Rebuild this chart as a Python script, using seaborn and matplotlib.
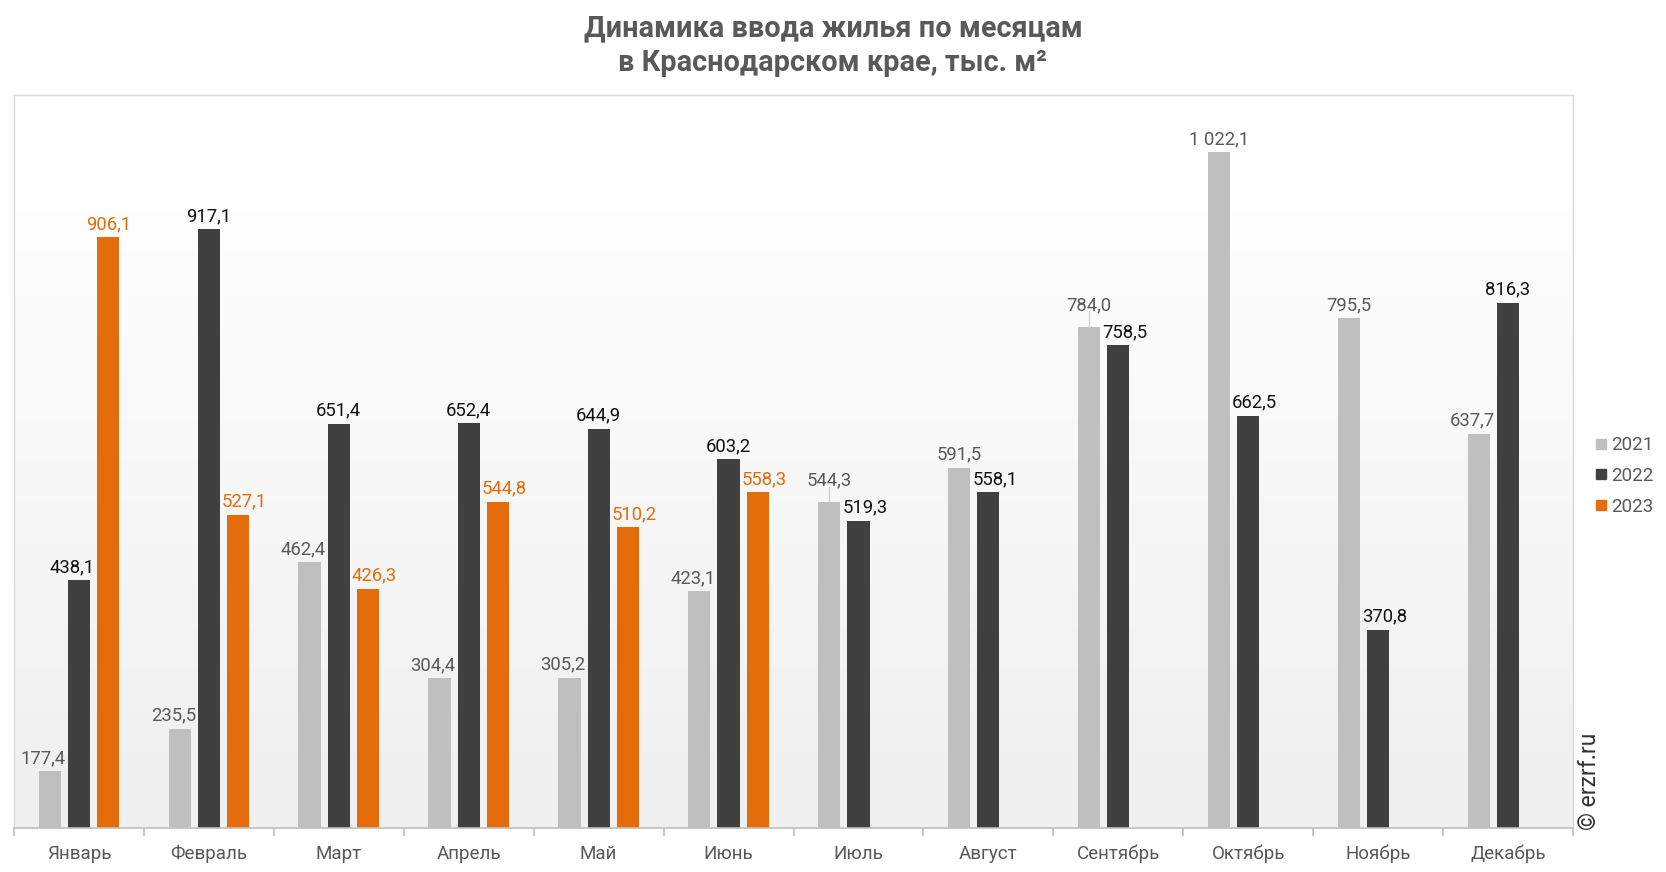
import numpy as np
import pandas as pd
import matplotlib
matplotlib.use("Agg")
import matplotlib.pyplot as plt
import seaborn as sns
from matplotlib.lines import Line2D

months = ["Январь", "Февраль", "Март", "Апрель", "Май", "Июнь",
          "Июль", "Август", "Сентябрь", "Октябрь", "Ноябрь", "Декабрь"]
years = ["2021", "2022", "2023"]
v2021 = [177.4, 235.5, 462.4, 304.4, 305.2, 423.1, 544.3, 591.5, 784.0, 1022.1, 795.5, 637.7]
v2022 = [438.1, 917.1, 651.4, 652.4, 644.9, 603.2, 519.3, 558.1, 758.5, 662.5, 370.8, 816.3]
v2023 = [906.1, 527.1, 426.3, 544.8, 510.2, 558.3]

title = "Динамика ввода жилья по месяцам\nв Краснодарском крае, тыс. м²"
watermark = "© erzrf.ru"

bar_colors = {"2021": "#bfbfbf", "2022": "#404040", "2023": "#e46c0a"}
label_colors = {"2021": "#595959", "2022": "#111111", "2023": "#e46c0a"}

rows = []
for y, vals in zip(years, [v2021, v2022, v2023]):
    for m, v in zip(months, vals):
        rows.append({"month": m, "year": y, "value": v})
df = pd.DataFrame(rows)

sns.set_theme(style="white")
plt.rcParams["font.family"] = ["Roboto", "DejaVu Sans"]

DPI = 100
fig = plt.figure(figsize=(16.66, 8.72), dpi=DPI)
ax = fig.add_axes([14 / 1666, 1 - 828 / 872, (1573 - 14) / 1666, (828 - 95) / 872])

# gradient background
grad = np.linspace(0, 1, 256).reshape(-1, 1)
top = np.array([1.0, 1.0, 1.0])
bot = np.array([0.945, 0.945, 0.945])
t = np.clip((grad - 0.1) / 0.8, 0, 1)
img = (top * (1 - t) + bot * t).reshape(256, 1, 3)
ax.imshow(img, extent=[0, 1, 0, 1], transform=ax.transAxes, aspect="auto", zorder=0)

sns.barplot(data=df, x="month", y="value", hue="year", order=months, hue_order=years,
            palette=bar_colors, width=0.675, gap=0.24, ax=ax, legend=False,
            saturation=1, zorder=2, linewidth=0, err_kws={"linewidth": 0})

ax.set_xlim(-0.5, 11.5)
ax.set_ylim(100, 1100)


def fmt(v):
    s = f"{v:,.1f}"
    return s.replace(",", " ").replace(".", ",")


PAD = 3
bars_by_month = {}
labels = []
for cont, y in zip(ax.containers, years):
    for patch, v in zip(cont.patches, cont.datavalues):
        if np.isnan(v):
            continue
        cx = patch.get_x() + patch.get_width() / 2
        mi = int(round(cx))
        bars_by_month.setdefault(mi, []).append(patch)
        ann = ax.annotate(fmt(v), xy=(cx, v), xytext=(0, PAD), textcoords="offset points",
                          ha="center", va="bottom", fontsize=13.3, color=label_colors[y],
                          zorder=4)
        labels.append({"ann": ann, "patch": patch, "m": mi, "year": y, "v": v})

ax.set_xlabel("")
ax.set_ylabel("")
ax.set_yticks([])
ax.set_xticks(range(12))
ax.set_xticklabels(months, fontsize=13.5, color="#595959")
ax.set_xticks(np.arange(-0.5, 12, 1), minor=True)
ax.tick_params(axis="x", which="major", length=0, pad=12)
ax.tick_params(axis="x", which="minor", length=6, color="#bfbfbf", width=1.2, bottom=True)
for s in ["left", "top", "right"]:
    ax.spines[s].set_color("#d9d9d9")
    ax.spines[s].set_linewidth(1.0)
ax.spines["bottom"].set_color("#bfbfbf")
ax.spines["bottom"].set_linewidth(1.2)

# nudge labels away from taller neighbouring bars (Excel-like placement)
fig.canvas.draw()
renderer = fig.canvas.get_renderer()
margin = 2
for lab in labels:
    ann, patch, mi = lab["ann"], lab["patch"], lab["m"]
    bb = ann.get_window_extent(renderer)
    pb = patch.get_window_extent(renderer)
    shift = 0.0
    for other in bars_by_month[mi]:
        if other is patch:
            continue
        ob = other.get_window_extent(renderer)
        if ob.y1 <= bb.y0:
            continue
        if ob.x0 > pb.x0:
            over = bb.x1 - (ob.x0 - margin)
            if over > 0:
                shift -= over
        else:
            over = (ob.x1 + margin) - bb.x0
            if over > 0:
                shift += over
    lab["dx"] = shift * 72 / DPI
    if shift != 0:
        ann.xyann = (lab["dx"], PAD)

# raise a label (with a leader line) when it sits too close to its neighbour's label
fig.canvas.draw()
RAISE = 6
inv = ax.transData.inverted()
for mi in range(12):
    labs = [l for l in labels if l["m"] == mi]
    a = [l for l in labs if l["year"] == "2021"]
    b = [l for l in labs if l["year"] == "2022"]
    if not a or not b:
        continue
    a, b = a[0], b[0]
    if a["v"] <= b["v"]:
        continue
    ba = a["ann"].get_window_extent(renderer)
    bbx = b["ann"].get_window_extent(renderer)
    if (ba.y0 - bbx.y0) < bbx.height + 3:
        a["ann"].xyann = (a["dx"], PAD + RAISE)
        fig.canvas.draw()
        nb = a["ann"].get_window_extent(renderer)
        pb = a["patch"].get_window_extent(renderer)
        cx = (pb.x0 + pb.x1) / 2
        p0 = inv.transform((cx, pb.y1))
        p1 = inv.transform((cx, nb.y0 + 3))
        ax.plot([p0[0], p1[0]], [p0[1], p1[1]], color="#cfcfcf", linewidth=0.9, zorder=3)

fig.text(0.5, 1 - 14 / 872, title, ha="center", va="top", fontsize=20.8, fontweight="bold",
         color="#595959", linespacing=1.3)

handles = [Line2D([0], [0], marker="s", linestyle="", markersize=7.5,
                  markerfacecolor=bar_colors[y], markeredgecolor=bar_colors[y]) for y in years]
fig.legend(handles, years, loc="center left", bbox_to_anchor=(1577 / 1666, 1 - 476 / 872),
           frameon=False, fontsize=13.5, handletextpad=0.1, labelspacing=0.68,
           handlelength=0.8, labelcolor="#595959")

fig.text(1589 / 1666, 1 - 781 / 872, watermark, rotation=90, ha="center", va="center",
         fontsize=16.5, color="#333333")

fig.savefig("out.png", dpi=DPI)
